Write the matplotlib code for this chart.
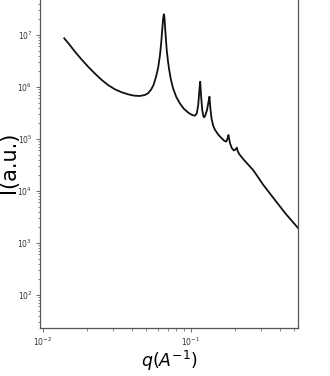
import numpy as np
import matplotlib
matplotlib.use('Agg')
import matplotlib.pyplot as plt
from matplotlib.ticker import LogLocator, NullFormatter

# scattering curve
q = [0.0140, 0.0152, 0.0165, 0.0183, 0.0203, 0.0226, 0.0251, 0.0278,
     0.0308, 0.0342, 0.0379, 0.0415, 0.0454, 0.0490, 0.0517, 0.0542,
     0.0562, 0.0585, 0.0604, 0.0620, 0.0631, 0.0642, 0.0650, 0.0656,
     0.0660, 0.0665, 0.0671, 0.0680, 0.0690, 0.0702, 0.0715, 0.0735,
     0.0760, 0.0800, 0.0847, 0.0900, 0.0964, 0.1020, 0.1070, 0.1100,
     0.1125, 0.1145, 0.1160, 0.1175, 0.1197, 0.1220, 0.1236, 0.1260,
     0.1290, 0.1320, 0.1340, 0.1360, 0.1386, 0.1420, 0.1460, 0.1540,
     0.1620, 0.1690, 0.1740, 0.1780, 0.1800, 0.1843, 0.1900, 0.1960,
     0.2010, 0.2050, 0.2080, 0.2130, 0.2300, 0.2650, 0.3100, 0.3710,
     0.4400, 0.5310]
intensity = [8.6e6, 6.5e6, 4.8e6, 3.4e6, 2.45e6, 1.8e6, 1.36e6, 1.08e6,
             9.0e5, 7.9e5, 7.2e5, 6.8e5, 6.7e5, 7.0e5, 7.6e5, 9.0e5,
             1.1e6, 1.6e6, 2.4e6, 4.0e6, 6.5e6, 1.2e7, 1.9e7, 2.35e7,
             2.5e7, 2.2e7, 1.5e7, 8.5e6, 5.0e6, 3.2e6, 2.2e6, 1.4e6,
             9.5e5, 6.4e5, 4.8e5, 3.8e5, 3.2e5, 2.9e5, 2.8e5, 3.1e5,
             4.5e5, 8.5e5, 1.26e6, 7.0e5, 3.6e5, 2.7e5, 2.6e5, 2.9e5,
             3.6e5, 5.2e5, 6.5e5, 3.8e5, 2.4e5, 1.8e5, 1.5e5, 1.2e5,
             1.03e5, 9.2e4, 8.9e4, 1.05e5, 1.19e5, 8.3e4, 6.6e4, 6.0e4,
             6.3e4, 6.8e4, 5.8e4, 5.1e4, 3.9e4, 2.5e4, 1.3e4, 6.7e3,
             3.6e3, 1.94e3]

fig = plt.figure(figsize=(3.3, 3.76), dpi=100)
ax = fig.add_axes([0.121, 0.1277, 0.782, 0.891])

ax.loglog(q, intensity, color='#111111', linewidth=1.3)

ax.set_xlim(10**-2.018, 10**-0.275)
ax.set_ylim(10**1.365, 10**7.807)

ax.yaxis.set_minor_locator(LogLocator(base=10, subs=np.arange(2, 10), numticks=50))
ax.yaxis.set_minor_formatter(NullFormatter())
ax.xaxis.set_minor_locator(LogLocator(base=10, subs=np.arange(2, 10), numticks=50))
ax.xaxis.set_minor_formatter(NullFormatter())

ax.tick_params(axis='both', which='major', labelsize=5.5, colors='#555555',
               labelcolor='#333333', length=3, width=0.6, pad=2.5)
ax.tick_params(axis='both', which='minor', colors='#555555', length=1.8, width=0.5)
for s in ax.spines.values():
    s.set_color('#555555')
    s.set_linewidth(0.9)

ax.set_ylabel('I(a.u.)', fontsize=15)
ax.yaxis.set_label_coords(-0.082, 0.496)
ax.set_xlabel(r'$q(A^{-1})$', fontsize=12.5)
ax.xaxis.set_label_coords(0.5, -0.062)

fig.savefig('out.png', dpi=100)
